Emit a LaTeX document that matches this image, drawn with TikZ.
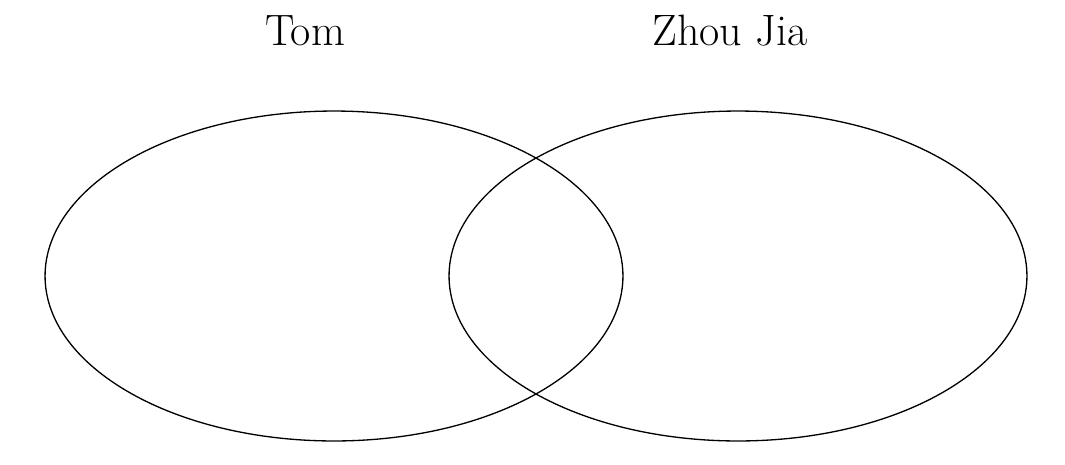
\documentclass[tikz,border=0pt]{standalone}
\usepackage{tikz}
\usetikzlibrary{shapes.geometric}

\begin{document}
\begin{tikzpicture}[
    x=0.02cm, y=-0.02cm,
    set/.style={ellipse, draw, line width=0.75pt, minimum width=11.56cm, minimum height=6.6cm, inner sep=0pt},
    name label/.style={anchor=base, font=\fontsize{25}{30}\selectfont}
]
    \useasboundingbox (0,0) rectangle (1065,464);

    % 两个集合
    \node[set] (tom) at (334,276) {};
    \node[set] (zhou) at (738,276) {};

    % 标签
    \node[name label] (tomlabel) at (305,45) {Tom};
    \node[name label] (zhoulabel) at (730,45) {Zhou Jia};
\end{tikzpicture}
\end{document}
